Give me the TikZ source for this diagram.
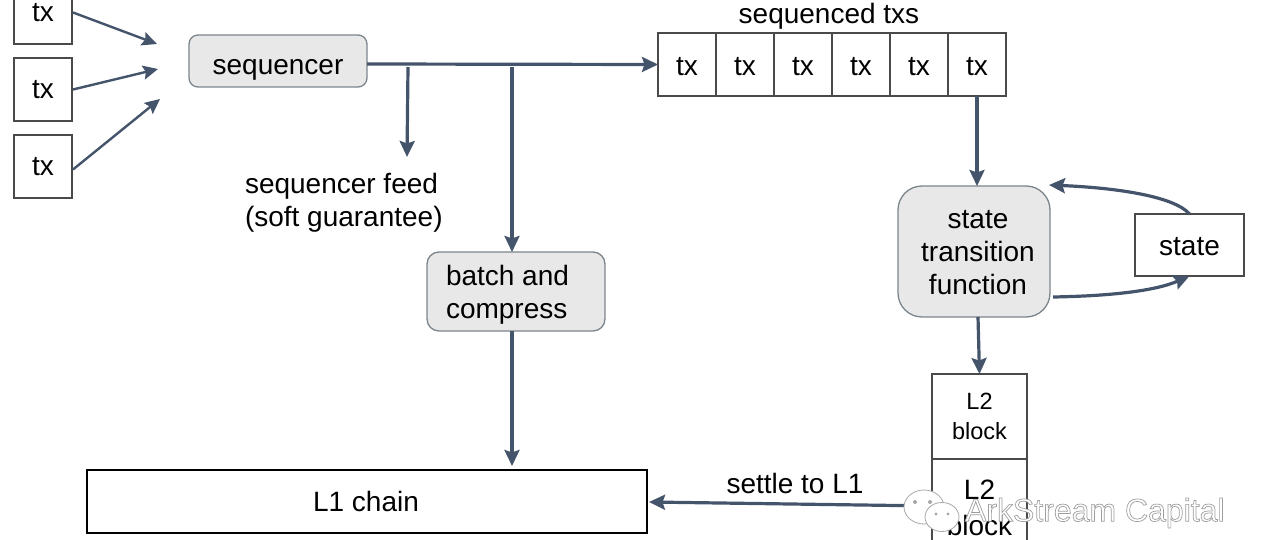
\documentclass[tikz,border=0pt]{standalone}
\usepackage{fontspec}
\setmainfont{Liberation Sans}
\usetikzlibrary{arrows.meta}
\definecolor{arrowc}{HTML}{44546A}
\definecolor{boxedge}{HTML}{7B858C}
\definecolor{boxfill}{HTML}{E8E8E8}
\definecolor{plainedge}{HTML}{4A4A4A}
\definecolor{markc}{HTML}{A8A8A8}
\newcommand{\lowtext}[2]{\raisebox{-#1pt}[0pt][0pt]{#2}}
\tikzset{
  every node/.style={font=\fontsize{28}{33}\selectfont,text=black,inner sep=0pt,outer sep=0pt},
  conn/.style={draw=arrowc,line width=3.2pt,-{Stealth[length=16pt,width=15pt,inset=2.5pt]}},
  thinconn/.style={draw=arrowc,line width=2.4pt,-{Stealth[length=15pt,width=14pt,inset=2.5pt]}},
  plainbox/.style={draw=plainedge,line width=1.2pt,fill=white,rectangle,align=center},
  graybox/.style={draw=boxedge,line width=1.3pt,fill=boxfill,rectangle,align=center},
  lab/.style={align=left},
  markfill/.style={draw=markc,line width=.8pt,fill=white},
}
\begin{document}
\begin{tikzpicture}[x=1pt,y=-1pt]
\useasboundingbox (0,0) rectangle (1269,540);
\clip (0,0) rectangle (1269,540);
% tx inputs
\node[plainbox,minimum width=58pt,minimum height=63pt] (txa) at (43,12.5) {tx};
\node[plainbox,minimum width=58pt,minimum height=63pt] (txb) at (43,89.5) {tx};
\node[plainbox,minimum width=58pt,minimum height=63pt] (txc) at (43,166.5) {tx};
\coordinate (ina) at (157,44);
\coordinate (inb) at (158,69);
\coordinate (inc) at (160,99);
% sequencer
\node[graybox,rounded corners=9pt,minimum width=178pt,minimum height=52pt] (seq) at (278,61) {};
\node (seqt) at (278,70) {sequencer};
% sequenced row
\node[anchor=south] (seqd) at (829,29) {sequenced txs};
\node[plainbox,minimum width=58pt,minimum height=63pt] (r1) at (687,64.5) {\lowtext{11.5}{tx}};
\node[plainbox,minimum width=58pt,minimum height=63pt] (r2) at (745,64.5) {\lowtext{11.5}{tx}};
\node[plainbox,minimum width=58pt,minimum height=63pt] (r3) at (803,64.5) {\lowtext{11.5}{tx}};
\node[plainbox,minimum width=58pt,minimum height=63pt] (r4) at (861,64.5) {\lowtext{11.5}{tx}};
\node[plainbox,minimum width=58pt,minimum height=63pt] (r5) at (919,64.5) {\lowtext{11.5}{tx}};
\node[plainbox,minimum width=58pt,minimum height=63pt] (r6) at (977,64.5) {\lowtext{11.5}{tx}};
% branches and free ends
\coordinate (bf) at (408,67);
\coordinate (bb) at (512,67);
\coordinate (fe) at (407,157);
% labels
\node[lab,anchor=west] (feed) at (245,203) {sequencer feed\\(soft guarantee)};
% batch
\node[graybox,rounded corners=12pt,minimum width=178pt,minimum height=79pt] (batch) at (516,291.5) {};
\node[lab,anchor=west] (batcht) at (446,295) {batch and\\compress};
% L1
\node[rectangle,draw=black,line width=2pt,fill=white,minimum width=560pt,minimum height=63pt] (l1) at (367,501.5) {};
\node (l1t) at (366,501) {L1 chain};
\coordinate (l1top) at (512,466);
\coordinate (l1east) at (649,502);
% state transition
\node[graybox,rounded corners=24pt,minimum width=152pt,minimum height=131pt] (stf) at (974,251.5) {};
\node[align=center] (stft) at (978,253) {state\\transition\\function};
\node[plainbox,minimum width=109pt,minimum height=62pt] (st) at (1189.5,245) {\lowtext{10.5}{state}};
% L2
\node[plainbox,font=\fontsize{23.5}{30}\selectfont,minimum width=95pt,minimum height=85pt] (la) at (979.5,416.5) {L2\\block};
\node[plainbox,minimum width=95pt,minimum height=97pt] (lb) at (979.5,507.5) {L2\\[3pt]block};
\draw[draw=plainedge,line width=2.4pt] (la.south west) -- (la.south east);
\node[anchor=south] (settle) at (795,494) {settle to L1};
% connectors
\draw[thinconn] (txa.east) ++(1,0) -- (ina);
\draw[thinconn] (txb.east) ++(1,0) -- (inb);
\draw[thinconn] (txc.east) ++(1,3) -- (inc);
\draw[conn] (seq.east) ++(0,3) -- (r1.west);
\draw[conn] (bf) -- (fe);
\draw[conn] (bb) -- (batch.north -| bb);
\draw[conn] (batch.south -| bb) -- (l1top);
\draw[conn] (r6.south) -- (stf.north -| r6.south);
\draw[conn] (stf.south -| r6.south) ++(1,0) -- (la.north);
\draw[conn] (st.north) .. controls (1175,197) and (1120,188) .. (1049,185);
\draw[conn] (1053,297) .. controls (1110,296) and (1155,291) .. (st.south);
\draw[conn] (lb.west |- 0,506) -- (l1east);
% watermark
\path[markfill] (924,507) ellipse (20pt and 17pt);
\path[markfill] (942,517) ellipse (17pt and 14.5pt);
\fill[markc] (915,502) circle (2pt) (930,502) circle (2pt) (936,514) circle (1.6pt) (948,514) circle (1.6pt);
\node[anchor=west,font=\fontsize{32}{38}\selectfont] (mark) at (965,513) {\special{pdf:code 2 Tr 0.7 w 0.62 G 1 g}ArkStream Capital\special{pdf:code 0 Tr 0 g 0 G}};
\end{tikzpicture}
\end{document}
